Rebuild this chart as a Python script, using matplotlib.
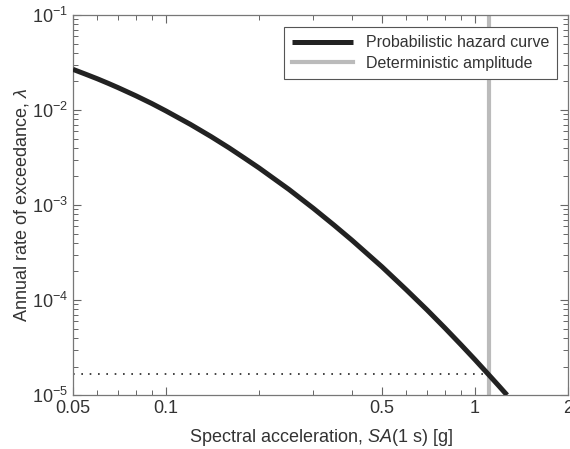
import matplotlib
matplotlib.use("Agg")
import matplotlib.pyplot as plt
from matplotlib.ticker import FixedLocator, NullFormatter, LogLocator

plt.rcParams['font.family'] = ['Liberation Sans', 'DejaVu Sans']
plt.rcParams['mathtext.fontset'] = 'custom'
plt.rcParams['mathtext.rm'] = 'Liberation Sans'
plt.rcParams['mathtext.it'] = 'Liberation Sans:italic'

# hazard curve
sa = [0.05, 0.055, 0.06, 0.065, 0.07, 0.08, 0.09, 0.1, 0.12, 0.14, 0.16, 0.18, 0.2, 0.25,
      0.3, 0.35, 0.4, 0.5, 0.6, 0.7, 0.8, 0.9, 1.0, 1.1, 1.2, 1.27]
rate = [0.0268, 0.0238, 0.0213, 0.0191, 0.0172, 0.0141, 0.0117, 0.00978, 0.00706, 0.00525,
        0.00400, 0.00310, 0.00246, 0.00146, 9.23e-4, 6.14e-4, 4.26e-4, 2.24e-4, 1.28e-4,
        7.87e-5, 5.07e-5, 3.40e-5, 2.36e-5, 1.68e-5, 1.23e-5, 1.0e-5]
det_sa = 1.11
det_rate = 1.65e-5

xticks = [0.05, 0.1, 0.5, 1, 2]
xticklabels = ['0.05', '0.1', '0.5', '1', '2']
xminor = [0.06, 0.07, 0.08, 0.09, 0.2, 0.3, 0.4, 0.6, 0.7, 0.8, 0.9]

txt = '#333333'
fig = plt.figure(figsize=(5.7, 4.49), dpi=100)
ax = fig.add_axes([0.128, 0.120, 0.8685, 0.8466])

ax.plot(sa, rate, color='#222222', lw=3.6, label='Probabilistic hazard curve', solid_capstyle='butt', zorder=3)
ax.axvline(det_sa, color='#bbbbbb', lw=3.0, label='Deterministic amplitude', zorder=2)
ax.plot([0.05, det_sa], [det_rate, det_rate], color='#222222', lw=1.2, ls=(0, (1, 4)), zorder=1)

ax.set_xscale('log')
ax.set_yscale('log')
ax.set_xlim(0.05, 2)
ax.set_ylim(1e-5, 1e-1)

ax.xaxis.set_major_locator(FixedLocator(xticks))
ax.set_xticklabels(xticklabels)
ax.xaxis.set_minor_locator(FixedLocator(xminor))
ax.xaxis.set_minor_formatter(NullFormatter())
ax.yaxis.set_major_locator(LogLocator(base=10))
ax.yaxis.set_minor_locator(LogLocator(base=10, subs=range(2, 10)))
ax.yaxis.set_minor_formatter(NullFormatter())

ax.tick_params(which='both', direction='in', top=True, right=True, colors='#666666',
               labelcolor=txt, labelsize=13)
ax.tick_params(which='major', length=6, width=0.8)
ax.tick_params(which='minor', length=3.5, width=0.7)
for s in ax.spines.values():
    s.set_color('#777777')
    s.set_linewidth(0.9)

ax.set_xlabel('Spectral acceleration, $SA$(1 s) [g]', fontsize=13, color=txt, labelpad=7)
ax.set_ylabel('Annual rate of exceedance, $\\lambda$', fontsize=13, color=txt, labelpad=1)

leg = ax.legend(loc='upper right', bbox_to_anchor=(0.978, 0.968), fontsize=11.5, fancybox=False,
                framealpha=1, edgecolor='#555555', handlelength=3.8, borderpad=0.5,
                labelspacing=0.35, borderaxespad=0)
leg.get_frame().set_linewidth(0.8)
for t in leg.get_texts():
    t.set_color(txt)

fig.savefig('out.png', dpi=100)
